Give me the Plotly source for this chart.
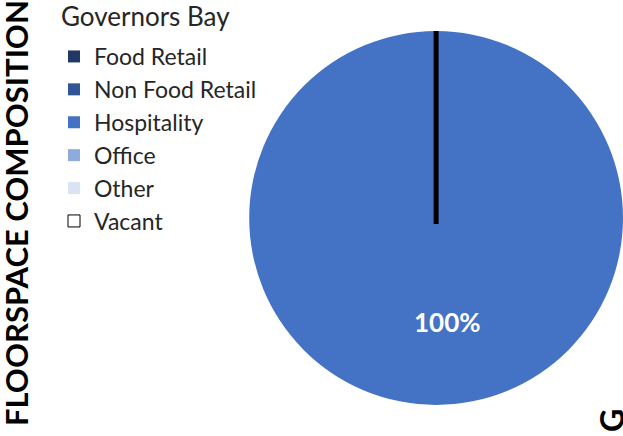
import plotly.graph_objects as go

categories = ["Food Retail", "Non Food Retail", "Hospitality", "Office", "Other", "Vacant"]
values = [0, 0, 100, 0, 0, 0]
colors = ["#203864", "#2F5597", "#4472C4", "#8FAADC", "#DAE3F3", "#FFFFFF"]
line_colors = ["#203864", "#2F5597", "#4472C4", "#8FAADC", "#DAE3F3", "#000000"]
line_widths = [0, 0, 0, 0, 0, 1]

W, H = 623, 436
dom_x = [0.4, 1.0]
dom_y = [0.07, 0.93]

fig = go.Figure(go.Pie(
    labels=categories, values=values, sort=False, direction="clockwise",
    marker=dict(colors=colors, line=dict(color=line_colors, width=line_widths)),
    textinfo="none", hoverinfo="label+percent",
    domain=dict(x=dom_x, y=dom_y),
))

total = sum(values)
main = max(range(len(values)), key=lambda i: values[i])
pct_text = f"{100 * values[main] / total:.0f}%"

cx = (dom_x[0] + dom_x[1]) / 2
cy = (dom_y[0] + dom_y[1]) / 2
r_px = min((dom_x[1] - dom_x[0]) * W, (dom_y[1] - dom_y[0]) * H) / 2

fig.add_shape(type="line", xref="paper", yref="paper",
              x0=cx, x1=cx, y0=cy - 6 / H, y1=cy + r_px / H,
              line=dict(color="black", width=5))

fig.add_annotation(text=f"<b>{pct_text}</b>", x=447 / W, y=1 - 322 / H,
                   xref="paper", yref="paper", xanchor="center", yanchor="middle",
                   showarrow=False,
                   font=dict(family="Lato", size=26, color="white"))

fig.add_annotation(text="<b>FLOORSPACE COMPOSITION</b>", textangle=-90,
                   x=16 / W, y=8 / H, xref="paper", yref="paper",
                   xanchor="center", yanchor="bottom", showarrow=False,
                   font=dict(family="Lato", size=31, color="black"))

fig.add_annotation(text="<b><u>G</u></b>", textangle=-90,
                   x=611 / W, y=(H - 421) / H, xref="paper", yref="paper",
                   xanchor="center", yanchor="middle", showarrow=False,
                   font=dict(family="Lato", size=32, color="black"))

fig.update_layout(
    width=W, height=H,
    margin=dict(l=0, r=0, t=0, b=0),
    paper_bgcolor="white", plot_bgcolor="white",
    title=dict(text="Governors Bay", x=61 / W, xanchor="left",
               y=1 - 17 / H, yanchor="middle",
               font=dict(family="Lato", size=26, color="#262626")),
    legend=dict(x=54 / W, xanchor="left", y=1 - 35 / H, yanchor="top",
                font=dict(family="Lato", size=23, color="#262626"),
                bgcolor="rgba(0,0,0,0)", itemclick=False),
    showlegend=True,
)

fig.write_html("out.html", config={"displayModeBar": False},
               post_script="document.body.style.margin='0';")
